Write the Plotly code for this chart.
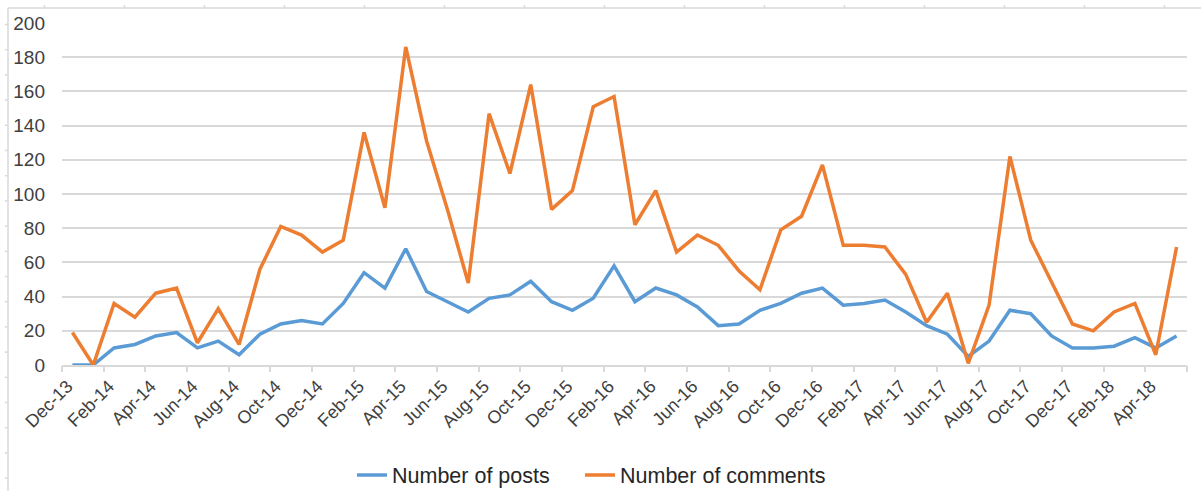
import plotly.graph_objects as go

months = ["Dec-13", "Jan-14", "Feb-14", "Mar-14", "Apr-14", "May-14", "Jun-14", "Jul-14", "Aug-14", "Sep-14",
          "Oct-14", "Nov-14", "Dec-14", "Jan-15", "Feb-15", "Mar-15", "Apr-15", "May-15", "Jun-15", "Jul-15",
          "Aug-15", "Sep-15", "Oct-15", "Nov-15", "Dec-15", "Jan-16", "Feb-16", "Mar-16", "Apr-16", "May-16",
          "Jun-16", "Jul-16", "Aug-16", "Sep-16", "Oct-16", "Nov-16", "Dec-16", "Jan-17", "Feb-17", "Mar-17",
          "Apr-17", "May-17", "Jun-17", "Jul-17", "Aug-17", "Sep-17", "Oct-17", "Nov-17", "Dec-17", "Jan-18",
          "Feb-18", "Mar-18", "Apr-18", "May-18"]

posts = [0, 0, 10, 12, 17, 19, 10, 14, 6, 18,
         24, 26, 24, 36, 54, 45, 68, 43, 37, 31,
         39, 41, 49, 37, 32, 39, 58, 37, 45, 41,
         34, 23, 24, 32, 36, 42, 45, 35, 36, 38,
         31, 23, 18, 5, 14, 32, 30, 17, 10, 10,
         11, 16, 10, 17]

comments = [19, 0, 36, 28, 42, 45, 13, 33, 12, 56,
            81, 76, 66, 73, 136, 92, 186, 131, 91, 48,
            147, 112, 164, 91, 102, 151, 157, 82, 102, 66,
            76, 70, 55, 44, 79, 87, 117, 70, 70, 69,
            53, 25, 42, 1, 35, 122, 73, 49, 24, 20,
            31, 36, 6, 69]

label_months = months[::2]
y_ticks = list(range(0, 201, 20))

TEXT = "#404040"
GRID = "#d9d9d9"

W, H = 1201, 491
l, r, t, b = 62, 14, 23, 126
pw, ph = W - l - r, H - t - b


def px(x):
    return (x - l) / pw


def py(y):
    return (H - b - y) / ph


n = len(months)
boundary_ticks = [i - 0.5 for i in range(0, n + 1, 2)]

fig = go.Figure()
fig.add_trace(go.Scatter(x=months, y=posts, mode="lines", name="Number of posts",
                         line=dict(color="#5B9BD5", width=3.5), legend="legend"))
fig.add_trace(go.Scatter(x=months, y=comments, mode="lines", name="Number of comments",
                         line=dict(color="#ED7D31", width=3.5), legend="legend2"))
fig.add_trace(go.Scatter(x=[], y=[], xaxis="x2", showlegend=False, hoverinfo="skip"))

legend_common = dict(orientation="h", xanchor="left", yanchor="middle",
                     font=dict(size=21.5, color="#262626"), itemwidth=30,
                     bgcolor="rgba(0,0,0,0)", borderwidth=0)

fig.update_layout(
    width=W, height=H,
    margin=dict(l=l, r=r, t=t, b=b, autoexpand=False),
    paper_bgcolor="white", plot_bgcolor="white",
    font=dict(family="Liberation Sans, Arial, sans-serif", size=18, color=TEXT),
    showlegend=True,
    legend=dict(x=px(352), y=py(475), **legend_common),
    legend2=dict(x=px(580), y=py(475), **legend_common),
    xaxis=dict(type="category", range=[-0.5, n - 0.5], tickmode="array", tickvals=label_months,
               ticktext=label_months, tickangle=-45, ticks="", showgrid=False, automargin=False,
               showline=True, linecolor=GRID, linewidth=1.5, zeroline=False,
               tickfont=dict(size=18, color=TEXT), ticklabelstandoff=2, ticklabelshift=-5),
    xaxis2=dict(overlaying="x", anchor="y", range=[-0.5, n - 0.5], tickmode="array",
                tickvals=boundary_ticks, ticks="outside", ticklen=6, tickcolor=GRID, tickwidth=1.5,
                showticklabels=False, showgrid=False, showline=False, zeroline=False, side="bottom",
                automargin=False),
    yaxis=dict(range=[0, 200], tickmode="array", tickvals=y_ticks, showgrid=True, gridcolor=GRID,
               gridwidth=1.5, zeroline=False, showline=False, ticks="", automargin=False,
               tickfont=dict(size=19, color=TEXT), ticklabelstandoff=16),
)

sh = []
sh.append(dict(type="line", xref="paper", yref="paper", x0=px(8), x1=px(W), y0=py(8), y1=py(8),
               line=dict(color=GRID, width=1.5)))
sh.append(dict(type="line", xref="paper", yref="paper", x0=px(8), x1=px(8), y0=py(8), y1=py(H),
               line=dict(color=GRID, width=1.5)))
for k in range(15):
    xx = 44.5 + 80 * k
    sh.append(dict(type="line", xref="paper", yref="paper", x0=px(xx), x1=px(xx), y0=py(5), y1=py(8),
                   line=dict(color=GRID, width=1.5)))
for k in range(19):
    yy = 24.5 + 25.2 * k
    sh.append(dict(type="line", xref="paper", yref="paper", x0=px(5), x1=px(8), y0=py(yy), y1=py(yy),
                   line=dict(color=GRID, width=1.5)))
fig.update_layout(shapes=sh)

fig.write_html("out.html")
